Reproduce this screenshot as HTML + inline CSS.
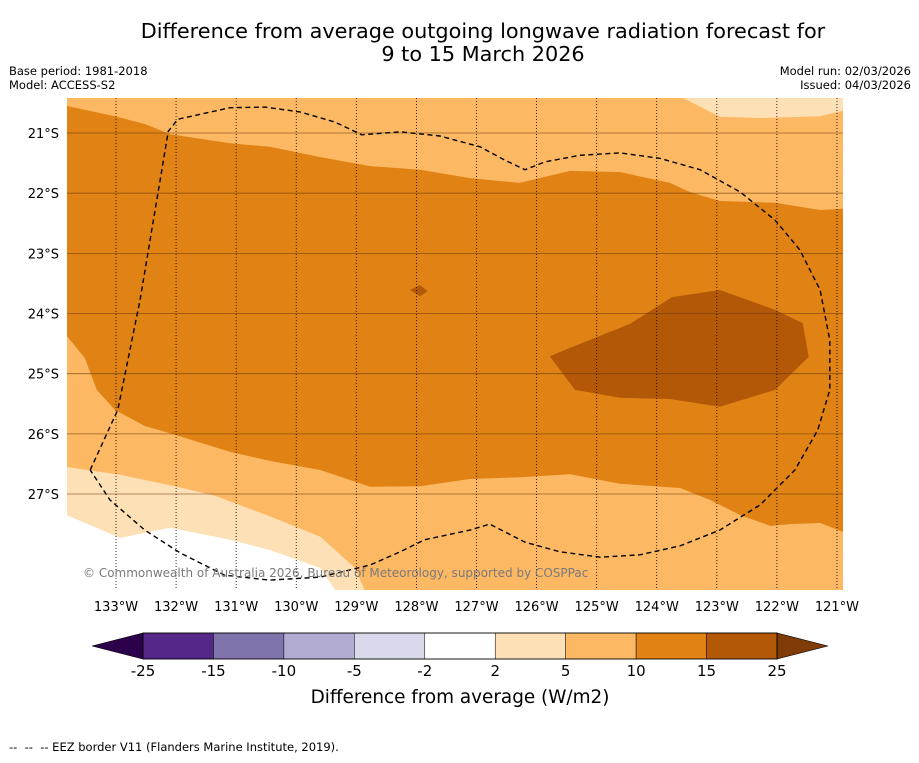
<!DOCTYPE html>
<html><head><meta charset="utf-8"><style>
body{margin:0;background:#fff;width:919px;height:758px;overflow:hidden;font-family:"Liberation Sans","DejaVu Sans",sans-serif}
svg text{font-family:"DejaVu Sans","Liberation Sans",sans-serif}
</style></head><body>
<svg id="chart" width="919" height="758" viewBox="0 0 919 758" xmlns="http://www.w3.org/2000/svg">
<text x="483" y="38" text-anchor="middle" font-size="20.8" fill="#000">Difference from average outgoing longwave radiation forecast for</text>
<text x="483" y="61" text-anchor="middle" font-size="20.8" fill="#000">9 to 15 March 2026</text>
<text x="9" y="75" font-size="11.5">Base period: 1981-2018</text>
<text x="9" y="89" font-size="11.5">Model: ACCESS-S2</text>
<text x="911" y="75" font-size="11.5" text-anchor="end">Model run: 02/03/2026</text>
<text x="911" y="89" font-size="11.5" text-anchor="end">Issued: 04/03/2026</text>
<defs><clipPath id="mapclip"><rect x="67" y="98" width="776" height="492"/></clipPath></defs>
<g id="map" clip-path="url(#mapclip)"></g>
<g id="axes"></g>
<text x="83" y="577" font-size="12" fill="#7a7a7a">© Commonwealth of Australia 2026, Bureau of Meteorology, supported by COSPPac</text>
<g id="cbar"></g>
<text x="460" y="703" text-anchor="middle" font-size="18.4">Difference from average (W/m2)</text>
<text x="9" y="751" font-size="11.5" style="white-space:pre" xml:space="preserve">--  --  -- EEZ border V11 (Flanders Marine Institute, 2019).</text>
</svg>
<script>
// longitude (°W) / latitude (°S) data
const lonTicks=[133,132,131,130,129,128,127,126,125,124,123,122,121];
const latTicks=[21,22,23,24,25,26,27];
const lightTopRight=[[123.56,20.42],[122.95,20.73],[122.28,20.75],[121.28,20.72],[120.9,20.63],[120.9,20.42]];
const lightBottomLeft=[[133.82,26.55],[132.93,26.68],[132.02,26.87],[131.35,27.03],[130.44,27.37],[129.6,27.71],[129.02,28.23],[128.86,28.6],[133.82,28.6]];
const whiteBottomLeft=[[133.82,27.35],[132.93,27.73],[132.1,27.56],[131.1,27.76],[130.44,27.93],[129.6,28.23],[129.35,28.6],[133.82,28.6]];
const orangeMain=[[133.82,20.55],[133.02,20.72],[132.52,20.85],[132.1,21.02],[131.1,21.17],[130.44,21.23],[129.6,21.4],[128.77,21.55],[127.94,21.61],[127.11,21.75],[126.28,21.83],[125.44,21.63],[124.61,21.65],[123.78,21.83],[123.45,21.98],[122.95,22.13],[122.03,22.16],[121.28,22.28],[120.9,22.26],[120.9,27.63],[121.28,27.48],[121.78,27.5],[122.11,27.53],[122.61,27.35],[123.11,27.1],[123.61,26.9],[124.61,26.83],[125.44,26.67],[126.28,26.72],[127.11,26.75],[127.94,26.87],[128.77,26.88],[129.6,26.6],[130.44,26.45],[131.1,26.3],[132.1,25.99],[132.52,25.87],[133.02,25.6],[133.32,25.27],[133.52,24.74],[133.82,24.37]];
const darkCore=[[125.78,24.71],[125.44,24.57],[124.44,24.17],[123.75,23.73],[122.95,23.61],[122.03,23.94],[121.57,24.16],[121.47,24.72],[122.03,25.27],[122.95,25.55],[123.78,25.42],[124.61,25.4],[125.36,25.27]];
const darkBlob=[[128.11,23.61],[127.94,23.53],[127.81,23.63],[127.94,23.71]];
const eez=[[133.43,26.6],[132.97,25.6],[132.6,23.78],[132.13,20.97],[131.97,20.77],[131.1,20.58],[130.52,20.57],[129.94,20.65],[129.35,20.82],[128.91,21.03],[128.27,20.98],[127.61,21.05],[126.94,21.23],[126.53,21.45],[126.19,21.61],[125.86,21.48],[125.28,21.37],[124.61,21.33],[123.95,21.42],[123.28,21.61],[122.61,21.98],[122.03,22.45],[121.62,22.94],[121.28,23.61],[121.12,24.44],[121.12,25.27],[121.32,25.94],[121.7,26.6],[122.28,27.18],[122.95,27.6],[123.61,27.86],[124.28,28.01],[124.94,28.05],[125.61,27.96],[126.19,27.8],[126.78,27.5],[127.11,27.6],[127.86,27.76],[128.27,27.96],[128.77,28.18],[129.6,28.38],[130.44,28.43],[131.19,28.35],[131.93,27.98],[132.52,27.6],[133.1,27.1],[133.43,26.6]];
const cbarLevels=["-25","-15","-10","-5","-2","2","5","10","15","25"];
const cbarColors=["#542788","#8073ac","#b2abd2","#d8daeb","#ffffff","#fee0b6","#fdb863","#e08214","#b35806"];
const NS="http://www.w3.org/2000/svg";
function xOf(w){return 116+(133-w)*60.08;}
function yOf(s){return 133+(s-21)*60.17;}
function mk(tag,parent,attrs){const e=document.createElementNS(NS,tag);for(const k in attrs)e.setAttribute(k,attrs[k]);parent.appendChild(e);return e;}
function pts(a){return a.map(p=>xOf(p[0]).toFixed(1)+","+yOf(p[1]).toFixed(1)).join(" ");}
const map=document.getElementById('map');
let bg=mk('rect',map,{x:67,y:98,width:776,height:492,fill:'#fdb863'});


const layers=[[lightTopRight,'#fee0b6','anomaly-2-5-top-right'],[lightBottomLeft,'#fee0b6','anomaly-2-5-bottom-left'],[whiteBottomLeft,'#ffffff','anomaly-neutral-bottom-left'],[orangeMain,'#e08214','anomaly-10-15-region'],[darkCore,'#b35806','anomaly-15-25-core'],[darkBlob,'#b35806','anomaly-15-25-blob']];
for(const L of layers){const p=mk('polygon',map,{points:pts(L[0]),fill:L[1]});

}
for(const s of latTicks){const l=mk('line',map,{x1:67,x2:843,y1:yOf(s),y2:yOf(s),stroke:'#6b3a0a','stroke-width':0.8,'stroke-opacity':0.7});

}
for(const w of lonTicks){const l=mk('line',map,{x1:xOf(w),x2:xOf(w),y1:98,y2:590,stroke:'#000','stroke-width':0.8,'stroke-dasharray':'1,2'});

}
const e=mk('polyline',map,{points:pts(eez),fill:'none',stroke:'#000','stroke-width':1.4,'stroke-dasharray':'5,3.5'});


const axes=document.getElementById('axes');
for(const w of lonTicks){const t=mk('text',axes,{x:xOf(w),y:611,'text-anchor':'middle','font-size':13});t.textContent=w+'°W';

}
for(const s of latTicks){const t=mk('text',axes,{x:59,y:yOf(s)+5,'text-anchor':'end','font-size':13});t.textContent=s+'°S';

}
const cb=document.getElementById('cbar');
const x0=143,x1=777,cy0=633,cy1=659,bw=(x1-x0)/cbarColors.length;
let tl=mk('polygon',cb,{points:`92,646 ${x0},${cy0} ${x0},${cy1}`,fill:'#2d004b',stroke:'#000','stroke-width':0.6});


let tr=mk('polygon',cb,{points:`828,646 ${x1},${cy0} ${x1},${cy1}`,fill:'#7f3b08',stroke:'#000','stroke-width':0.6});


cbarColors.forEach((c,i)=>{const r=mk('rect',cb,{x:x0+i*bw,y:cy0,width:bw,height:cy1-cy0,fill:c,stroke:'#000','stroke-width':0.5});

});
mk('rect',cb,{x:x0,y:cy0,width:x1-x0,height:cy1-cy0,fill:'none',stroke:'#000','stroke-width':0.8});
cbarLevels.forEach((v,i)=>{const t=mk('text',cb,{x:x0+i*bw,y:676,'text-anchor':'middle','font-size':15});t.textContent=v;

});
</script>
</body></html>
